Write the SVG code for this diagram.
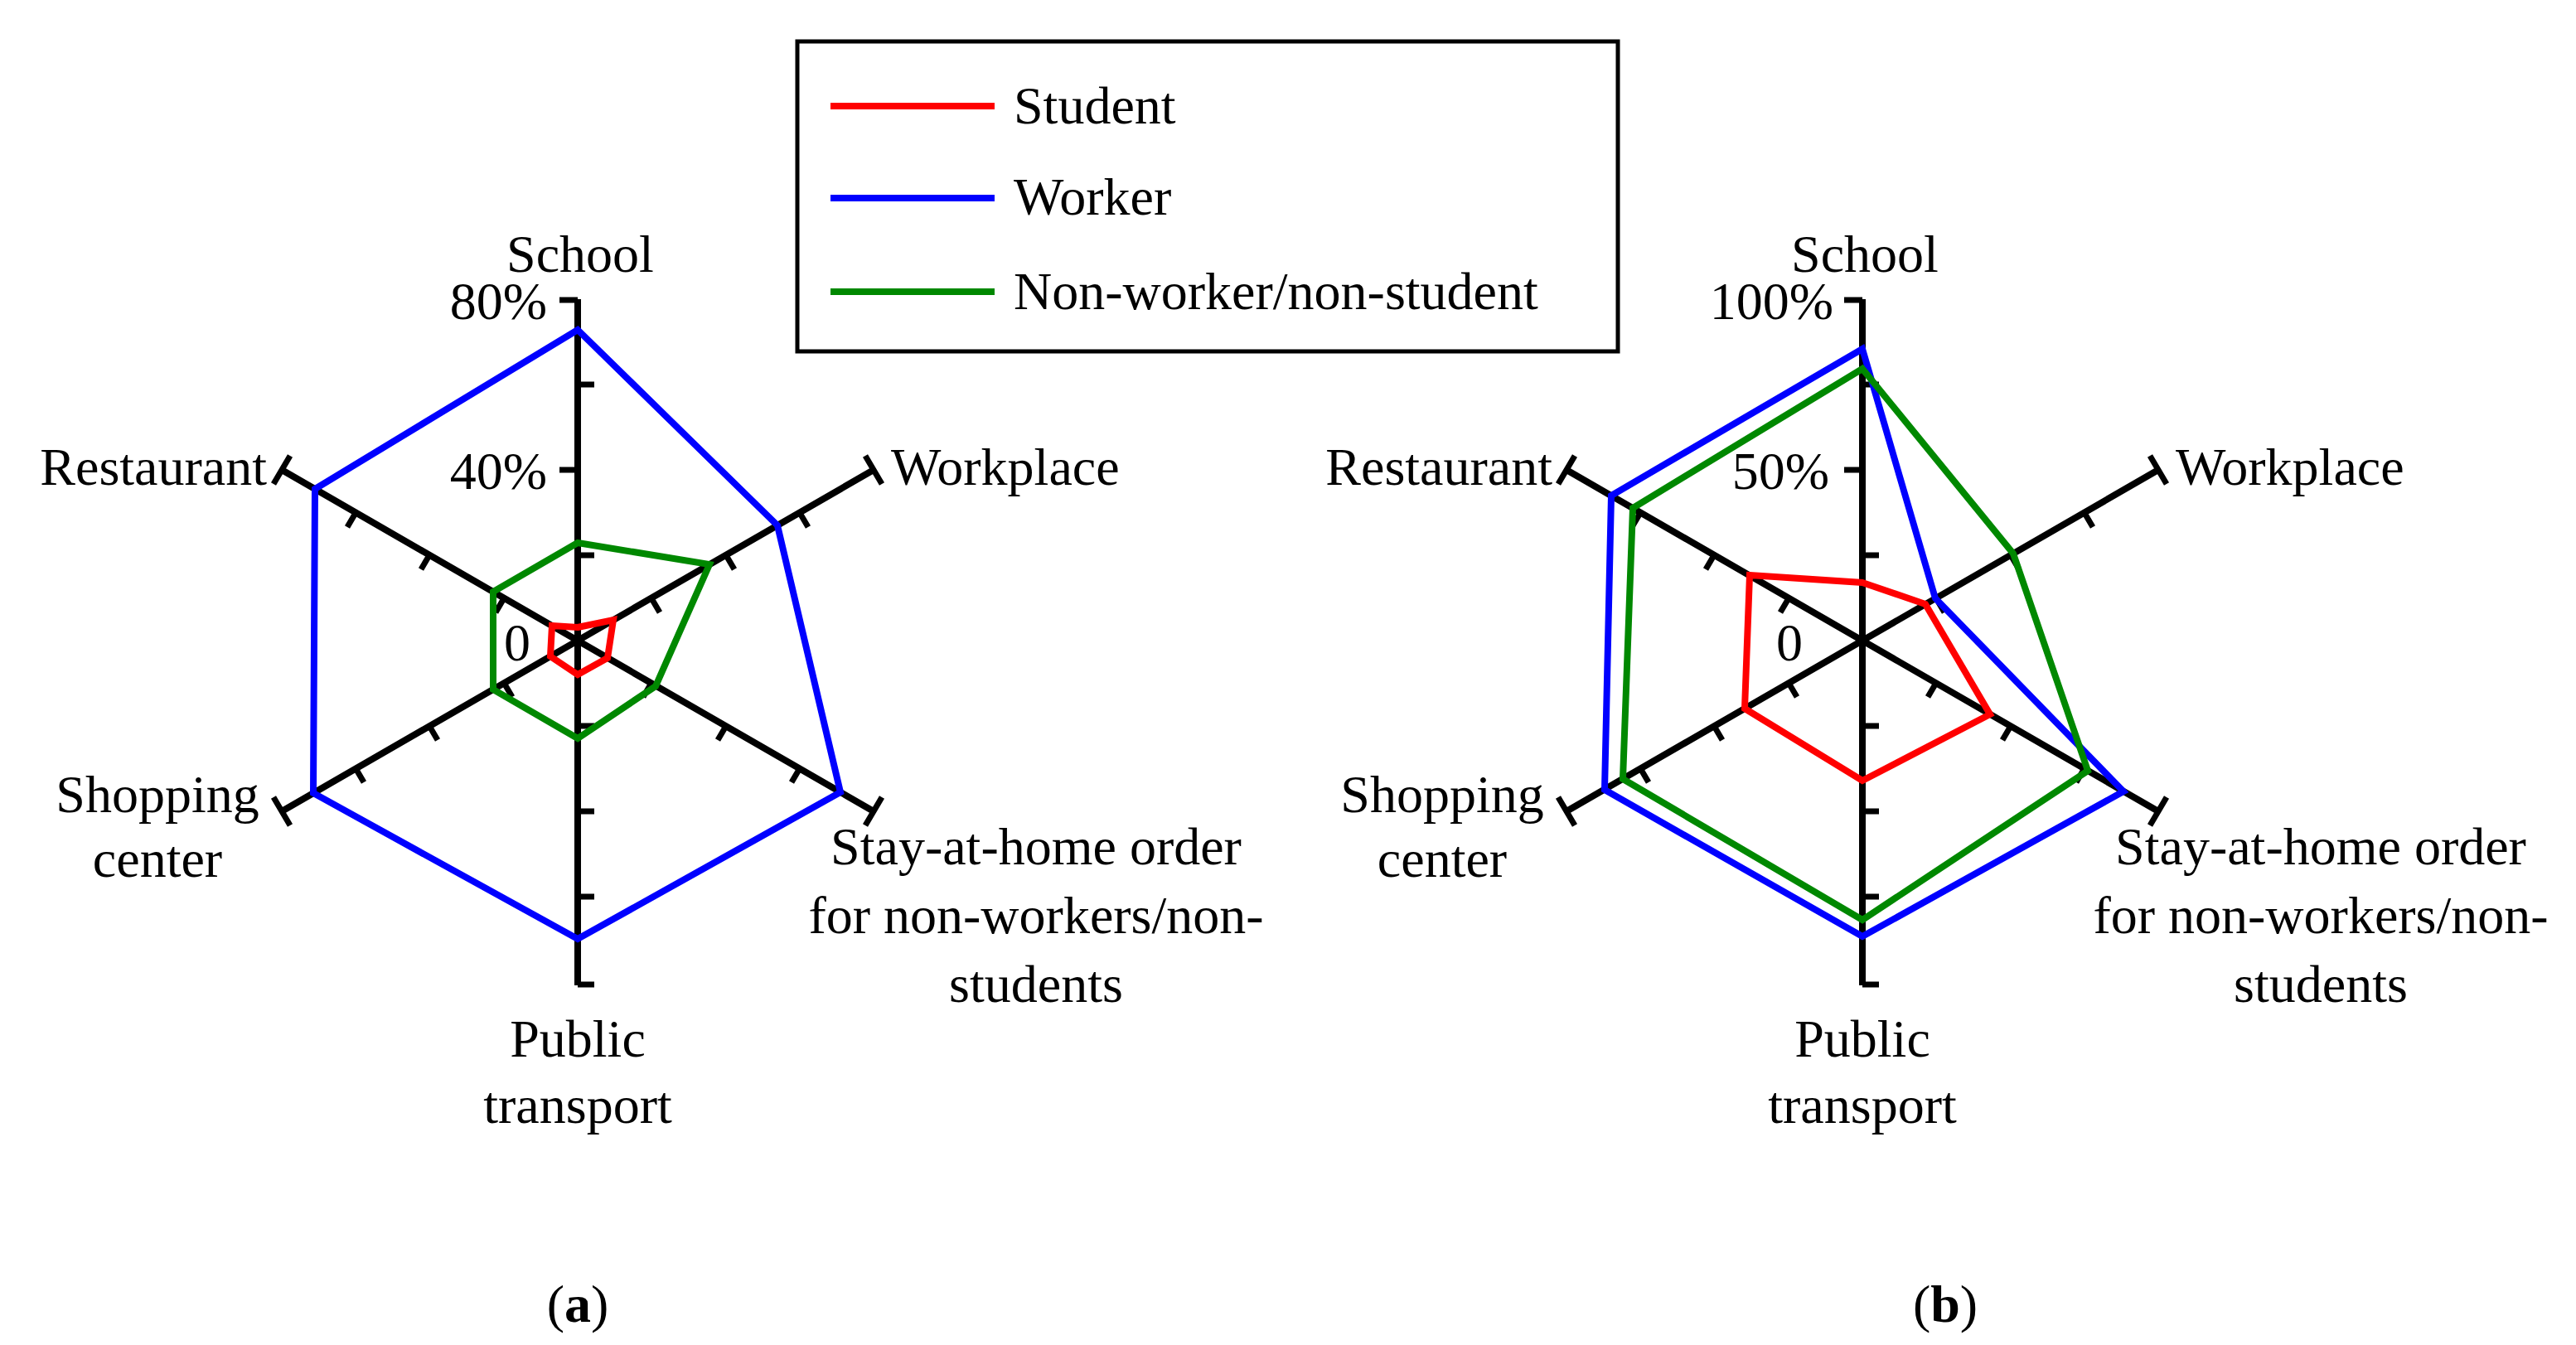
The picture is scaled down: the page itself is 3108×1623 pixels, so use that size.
<svg xmlns="http://www.w3.org/2000/svg" width="3108" height="1623" viewBox="0 0 3108 1623">
<style>
text{font-family:"Liberation Serif","Times New Roman",serif;font-size:64px;fill:#000}
.ax{stroke:#000;stroke-width:8;fill:none}
.tk{stroke:#000;stroke-width:7;fill:none}
.s{stroke:#ff0000;stroke-width:8;fill:none}
.w{stroke:#0000ff;stroke-width:8;fill:none}
.n{stroke:#008800;stroke-width:8;fill:none}
.m{text-anchor:middle}.e{text-anchor:end}
</style>
<rect width="3108" height="1623" fill="#fff"/>
<g id="chartA">
<g id="axesA">
<path class="ax" d="M697,361V1189M340,567L1054,979M340,979L1054,567"/>
<path class="tk" d="M697,362h-22M697,464h20M697,567h-22M697,670h20M697,876h20M697,979h20M697,1082h20M697,1188h20
M1054,567l10,17l-10,-17l-10,-17M965,619l10,17M876,670l10,17M786,722l10,17
M1054,979l-10,17l10,-17l10,-17M965,927l-10,17M876,876l-10,17M786,824l-10,17
M340,567l10,-17l-10,17l-10,17M429,619l-10,17M518,670l-10,17M608,722l-10,17
M340,979l10,17l-10,-17l-10,-17M429,927l10,17M518,876l10,17M608,824l10,17"/>
</g>
<polygon class="w" points="697,398 938,634 1014,956 697,1133 378,957 380,590"/>
<polygon class="n" points="697,655 856,681 791,828 697,891 595,832 595,714"/>
<polygon class="s" points="697,757 740,748 733,794 697,814 664,792 666,755"/>
<text class="m" x="700" y="328">School</text>
<text class="e" x="660" y="385">80%</text>
<text class="e" x="660" y="590">40%</text>
<text class="e" x="640" y="797">0</text>
<text x="1075" y="585">Workplace</text>
<text class="e" x="322" y="585">Restaurant</text>
<text class="m" x="190" y="980">Shopping</text>
<text class="m" x="190" y="1058">center</text>
<text class="m" x="1250" y="1043">Stay-at-home order</text>
<text class="m" x="1250" y="1126">for non-workers/non-</text>
<text class="m" x="1250" y="1209">students</text>
<text class="m" x="697" y="1275">Public</text>
<text class="m" x="697" y="1355">transport</text>
<text class="m" x="697" y="1595">(<tspan font-weight="bold">a</tspan>)</text>
</g>
<g id="chartB">
<g id="axesB">
<path class="ax" d="M2247,361V1189M1890,567L2604,979M1890,979L2604,567"/>
<path class="tk" d="M2247,362h-22M2247,464h20M2247,567h-22M2247,670h20M2247,876h20M2247,979h20M2247,1082h20M2247,1188h20
M2604,567l10,17l-10,-17l-10,-17M2515,619l10,17M2426,670l10,17M2336,722l10,17
M2604,979l-10,17l10,-17l10,-17M2515,927l-10,17M2426,876l-10,17M2336,824l-10,17
M1890,567l10,-17l-10,17l-10,17M1979,619l-10,17M2068,670l-10,17M2158,722l-10,17
M1890,979l10,17l-10,-17l-10,-17M1979,927l10,17M2068,876l10,17M2158,824l10,17"/>
</g>
<polygon class="w" points="2247,421 2335,722 2562,955 2247,1130 1936,953 1944,598"/>
<polygon class="n" points="2247,445 2429,668 2519,930 2247,1110 1958,940 1970,613"/>
<polygon class="s" points="2247,703 2323,729 2401,862 2247,942 2105,855 2111,694"/>
<text class="m" x="2250" y="328">School</text>
<text class="e" x="2212" y="385">100%</text>
<text class="e" x="2207" y="590">50%</text>
<text class="e" x="2175" y="797">0</text>
<text x="2625" y="585">Workplace</text>
<text class="e" x="1873" y="585">Restaurant</text>
<text class="m" x="1740" y="980">Shopping</text>
<text class="m" x="1740" y="1058">center</text>
<text class="m" x="2800" y="1043">Stay-at-home order</text>
<text class="m" x="2800" y="1126">for non-workers/non-</text>
<text class="m" x="2800" y="1209">students</text>
<text class="m" x="2247" y="1275">Public</text>
<text class="m" x="2247" y="1355">transport</text>
<text class="m" x="2347" y="1595">(<tspan font-weight="bold">b</tspan>)</text>
</g>
<g id="legend">
<rect x="962" y="50" width="990" height="374" fill="#fff" stroke="#000" stroke-width="5"/>
<line class="s" x1="1002" y1="128" x2="1200" y2="128"/>
<line class="w" x1="1002" y1="239" x2="1200" y2="239"/>
<line class="n" x1="1002" y1="352" x2="1200" y2="352"/>
<text x="1223" y="149">Student</text>
<text x="1223" y="259">Worker</text>
<text x="1223" y="373">Non-worker/non-student</text>
</g>
</svg>
